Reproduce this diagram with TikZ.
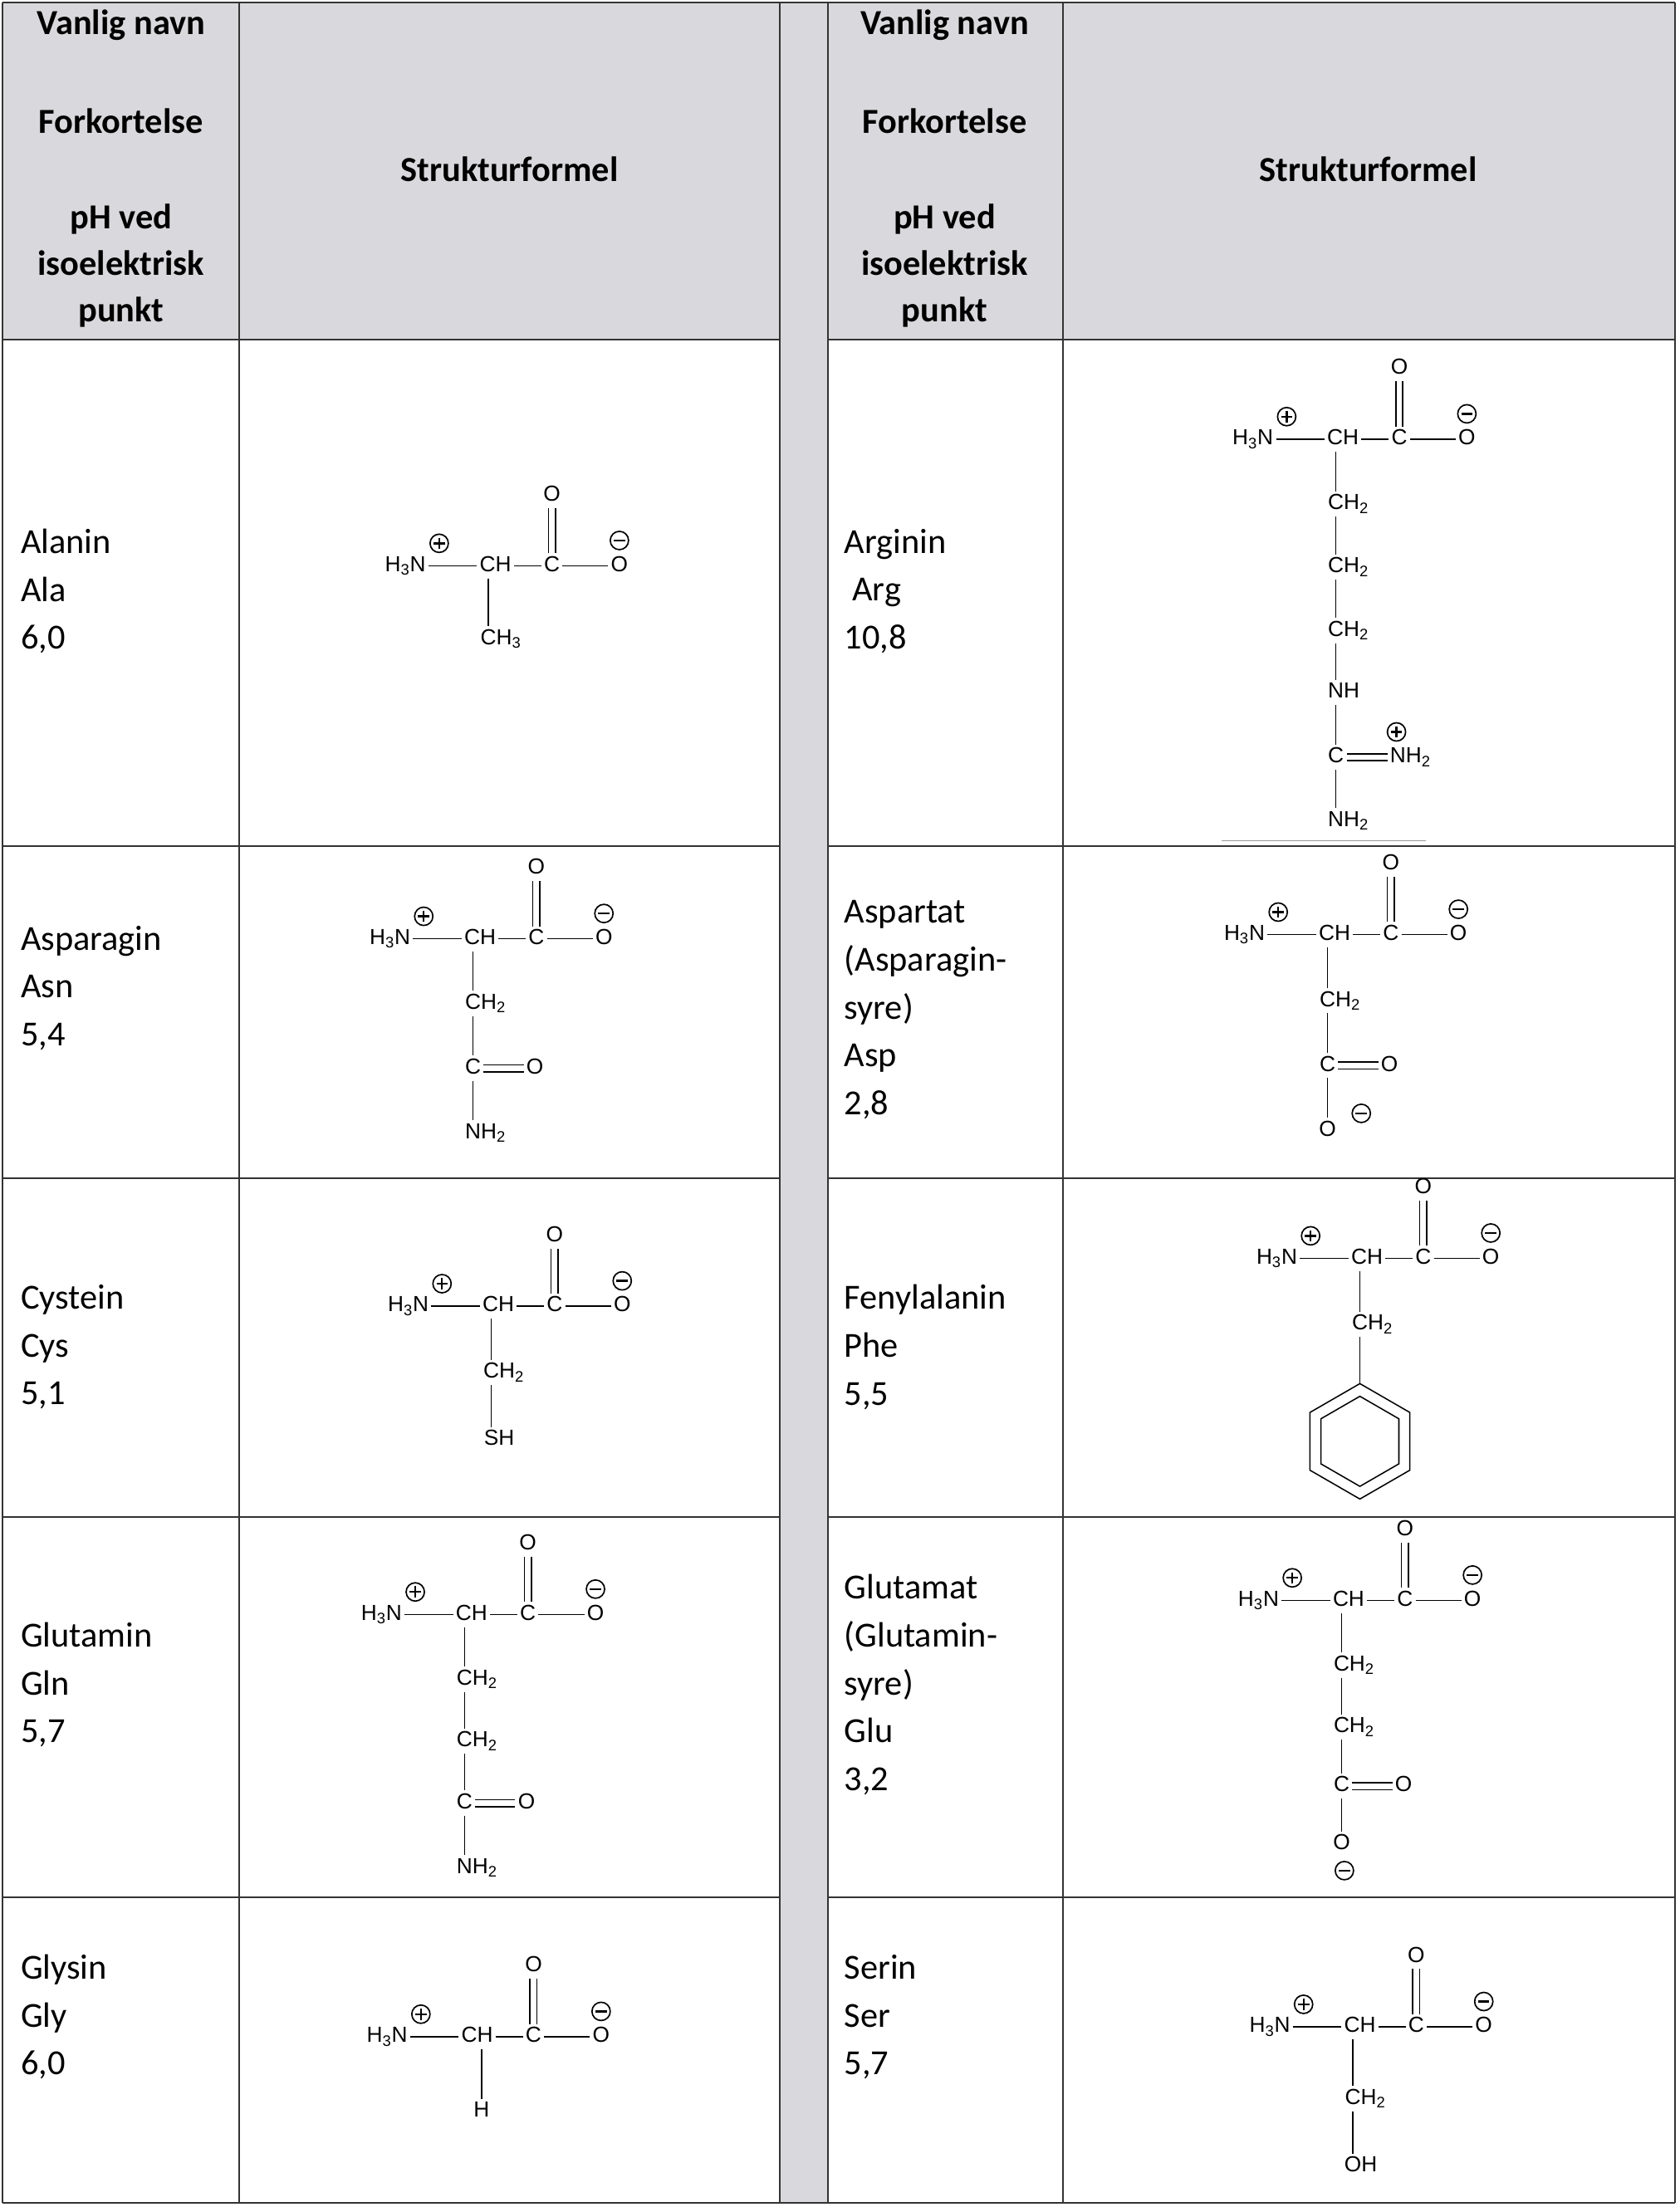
\documentclass[tikz,border=0pt]{standalone}
\usepackage{fontspec}
\setmainfont{Carlito}
\newfontfamily\chemf{Liberation Sans}
\usetikzlibrary{calc}
\definecolor{hdr}{RGB}{217,217,221}
\newcommand\chem{\chemf\fontsize{15.5}{17}\selectfont}
\newcommand\bbone[3]{%
\node[atm] (#1ch) at (#2,#3) {CH};
\node[atm] (#1n) at ({#2-64},#3) {H\textsubscript{3}N};
\node[atm] (#1c) at ({#2+40},#3) {C};
\node[atm] (#1o) at ({#2+40},{#3-50}) {O};
\node[atm] (#1om) at ({#2+88},#3) {O};
\draw (#1n)--(#1ch) (#1ch)--(#1c) (#1c)--(#1om);
\draw ([xshift=-2.5pt]#1c.north)--([xshift=-2.5pt]#1o.south) ([xshift=2.5pt]#1c.north)--([xshift=2.5pt]#1o.south);
\pic at ({#2-40},{#3-16}) {pos}; \pic at ({#2+88},{#3-18}) {neg};
}
\begin{document}
\begin{tikzpicture}[x=1pt,y=-1pt,line width=0.9pt,
 atm/.style={font=\chem,inner sep=1.5pt,text height=11pt,text depth=3pt},
 grid/.style={line width=1.2pt,black!80},
 hd/.style={font=\fontsize{25}{29}\selectfont\bfseries,align=center},
 nm/.style={font=\fontsize{25}{34}\selectfont,align=left,anchor=north west},
 pos/.pic={\draw[line width=1pt] (0,0) circle (6.5); \draw[line width=1.4pt] (-4,0)--(4,0) (0,-4)--(0,4);},
 neg/.pic={\draw[line width=1pt] (0,0) circle (6.5); \draw[line width=1.4pt] (-4,0)--(4,0);}]
\useasboundingbox (0,0) rectangle (1193,1568);
% table
\fill[hdr] (2,2) rectangle (554,241) (588,2) rectangle (1190,241) (554,2) rectangle (588,1565);
\foreach \x in {2,170,554,588,755,1190} \draw[grid] (\x,2)--(\x,1565);
\foreach \y in {2,241,601,837,1078,1348,1565} {\draw[grid] (2,\y)--(554,\y); \draw[grid] (588,\y)--(1190,\y);}
\draw[grid] (554,2)--(588,2) (554,1565)--(588,1565);
% headers
\foreach \cx/\p in {86/l,671/r}{
\node[hd] (vn\p) at (\cx,18) {Vanlig navn};
\node[hd] (fk\p) at (\cx,86) {Forkortelse};
\node[hd] (ph\p) at (\cx,189) {pH ved\\[4pt]isoelektrisk\\[4pt]punkt};}
\node[hd] (sfl) at (362,120) {Strukturformel};
\node[hd] (sfr) at (972,120) {Strukturformel};
% names
\node[nm] (n1) at (11,372) {Alanin\\Ala\\6,0};
\node[nm] (n2) at (11,654) {Asparagin\\Asn\\5,4};
\node[nm] (n3) at (11,909) {Cystein\\Cys\\5,1};
\node[nm] (n4) at (11,1149) {Glutamin\\Gln\\5,7};
\node[nm] (n5) at (11,1385) {Glysin\\Gly\\6,0};
\node[nm] (n6) at (596,372) {Arginin\\\ Arg\\10,8};
\node[nm] (n7) at (596,636) {Aspartat\\(Asparagin-\\syre)\\Asp\\2,8};
\node[nm] (n8) at (596,909) {Fenylalanin\\Phe\\5,5};
\node[nm] (n9) at (596,1115) {Glutamat\\(Glutamin-\\syre)\\Glu\\3,2};
\node[nm] (n10) at (596,1385) {Serin\\Ser\\5,7};
% Alanin
\bbone{a}{352}{402}
\node[atm] (a1) at (347,454) {C\rlap{H\textsubscript{3}}};
\draw (ach.south -| a1)--(a1);
% Asparagin
\bbone{b}{341}{667}
\node[atm] (b1) at (336,713) {C\rlap{H\textsubscript{2}}};
\node[atm] (b2) at (336,759) {C};
\node[atm] (b2o) at (380,759) {O};
\node[atm] (b3) at (336,805) {N\rlap{H\textsubscript{2}}};
\draw (bch.south -| b1)--(b1) (b1)--(b2) (b2)--(b3);
\draw ([yshift=2.5pt]b2.east)--([yshift=2.5pt]b2o.west) ([yshift=-2.5pt]b2.east)--([yshift=-2.5pt]b2o.west);
% Cystein
\bbone{c}{354}{928}
\node[atm] (c1) at (349,975) {C\rlap{H\textsubscript{2}}};
\node[atm] (c2) at (349,1023) {S\rlap{H}};
\draw (cch.south -| c1)--(c1) (c1)--(c2);
% Glutamin
\bbone{d}{335}{1147}
\node[atm] (d1) at (330,1193) {C\rlap{H\textsubscript{2}}};
\node[atm] (d2) at (330,1237) {C\rlap{H\textsubscript{2}}};
\node[atm] (d3) at (330,1281) {C};
\node[atm] (d3o) at (374,1281) {O};
\node[atm] (d4) at (330,1327) {N\rlap{H\textsubscript{2}}};
\draw (dch.south -| d1)--(d1) (d1)--(d2) (d2)--(d3) (d3)--(d4);
\draw ([yshift=2.5pt]d3.east)--([yshift=2.5pt]d3o.west) ([yshift=-2.5pt]d3.east)--([yshift=-2.5pt]d3o.west);
% Glysin
\bbone{e}{339}{1447}
\node[atm] (e1) at (342,1500) {H};
\draw (ech.south -| e1)--(e1);
% Arginin
\bbone{f}{954}{312}
\node[atm] (f1) at (949,358) {C\rlap{H\textsubscript{2}}};
\node[atm] (f2) at (949,403) {C\rlap{H\textsubscript{2}}};
\node[atm] (f3) at (949,448) {C\rlap{H\textsubscript{2}}};
\node[atm] (f4) at (949,492) {N\rlap{H}};
\node[atm] (f5) at (949,538) {C};
\node[atm] (f5n) at (993,538) {N\rlap{H\textsubscript{2}}};
\node[atm] (f6) at (949,583) {N\rlap{H\textsubscript{2}}};
\draw (fch.south -| f1)--(f1) (f1)--(f2) (f2)--(f3) (f3)--(f4) (f4)--(f5) (f5)--(f6);
\draw ([yshift=2.5pt]f5.east)--([yshift=2.5pt]f5n.west) ([yshift=-2.5pt]f5.east)--([yshift=-2.5pt]f5n.west);
\pic at (992,520) {pos};
\draw[black!40,line width=0.6pt] (868,597)--(1013,597);
% Aspartat
\bbone{g}{948}{664}
\node[atm] (g1) at (943,711) {C\rlap{H\textsubscript{2}}};
\node[atm] (g2) at (943,757) {C};
\node[atm] (g2o) at (987,757) {O};
\node[atm] (g3) at (943,803) {O};
\draw (gch.south -| g1)--(g1) (g1)--(g2) (g2)--(g3);
\draw ([yshift=2.5pt]g2.east)--([yshift=2.5pt]g2o.west) ([yshift=-2.5pt]g2.east)--([yshift=-2.5pt]g2o.west);
\pic at (967,791) {neg};
% Fenylalanin
\bbone{h}{971}{894}
\node[atm] (h1) at (966,941) {C\rlap{H\textsubscript{2}}};
\coordinate (hr) at (966,1024);
\coordinate (htop) at (966,983);
\draw (hch.south -| h1)--(h1) (h1)--(htop);
\draw ($(hr)+(0,-41)$) -- ($(hr)+(35.5,-20.5)$) -- ($(hr)+(35.5,20.5)$) -- ($(hr)+(0,41)$) -- ($(hr)+(-35.5,20.5)$) -- ($(hr)+(-35.5,-20.5)$) -- cycle;
\draw ($(hr)+(0,-32)$) -- ($(hr)+(27.7,-16)$) -- ($(hr)+(27.7,16)$) -- ($(hr)+(0,32)$) -- ($(hr)+(-27.7,16)$) -- ($(hr)+(-27.7,-16)$) -- cycle;
% Glutamat
\bbone{k}{958}{1137}
\node[atm] (k1) at (953,1183) {C\rlap{H\textsubscript{2}}};
\node[atm] (k2) at (953,1227) {C\rlap{H\textsubscript{2}}};
\node[atm] (k3) at (953,1269) {C};
\node[atm] (k3o) at (997,1269) {O};
\node[atm] (k4) at (953,1310) {O};
\draw (kch.south -| k1)--(k1) (k1)--(k2) (k2)--(k3) (k3)--(k4);
\draw ([yshift=2.5pt]k3.east)--([yshift=2.5pt]k3o.west) ([yshift=-2.5pt]k3.east)--([yshift=-2.5pt]k3o.west);
\pic at (955,1329) {neg};
% Serin
\bbone{m}{966}{1440}
\node[atm] (m1) at (961,1491) {C\rlap{H\textsubscript{2}}};
\node[atm] (m2) at (961,1539) {O\rlap{H}};
\draw (mch.south -| m1)--(m1) (m1)--(m2);
\end{tikzpicture}
\end{document}
